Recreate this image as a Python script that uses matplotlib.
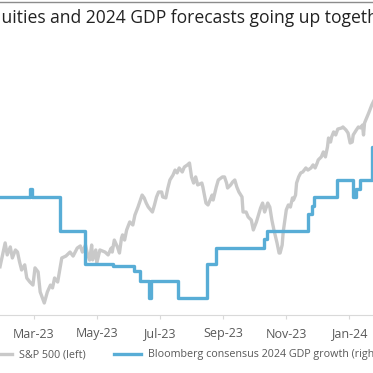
import matplotlib
matplotlib.use("Agg")
import matplotlib.pyplot as plt
import matplotlib.dates as mdates
from matplotlib.lines import Line2D
import pandas as pd

plt.rcParams['font.family'] = ['Open Sans', 'DejaVu Sans']

# S&P 500 (left axis)
sp_dates = (
    ["2023-01-27", "2023-02-01", "2023-02-03", "2023-02-06", "2023-02-08", "2023-02-11", "2023-02-13",
     "2023-02-15", "2023-02-17", "2023-02-20", "2023-02-22", "2023-02-25", "2023-02-28"]
    + ["2023-03-02", "2023-03-05", "2023-03-07", "2023-03-11", "2023-03-14", "2023-03-17", "2023-03-19",
       "2023-03-21", "2023-03-24", "2023-03-28"]
    + ["2023-04-01", "2023-04-05", "2023-04-08", "2023-04-12", "2023-04-15", "2023-04-17", "2023-04-20",
       "2023-04-22", "2023-04-24", "2023-04-26", "2023-04-27", "2023-04-30"]
    + ["2023-05-01", "2023-05-04", "2023-05-09", "2023-05-12", "2023-05-15", "2023-05-16", "2023-05-18",
       "2023-05-21", "2023-05-23", "2023-05-25", "2023-05-26", "2023-05-28", "2023-05-30"]
    + ["2023-06-02", "2023-06-05", "2023-06-07", "2023-06-10", "2023-06-14", "2023-06-16", "2023-06-18",
       "2023-06-20", "2023-06-24", "2023-06-26", "2023-06-28", "2023-06-30"]
    + ["2023-07-03", "2023-07-04", "2023-07-07", "2023-07-09", "2023-07-11", "2023-07-14", "2023-07-16",
       "2023-07-18", "2023-07-20", "2023-07-23", "2023-07-25", "2023-07-28", "2023-07-30"]
    + ["2023-08-01", "2023-08-03", "2023-08-05", "2023-08-07", "2023-08-11", "2023-08-12", "2023-08-15",
       "2023-08-17", "2023-08-19", "2023-08-21", "2023-08-22", "2023-08-25", "2023-08-27", "2023-08-31"]
    + ["2023-09-02", "2023-09-04", "2023-09-05", "2023-09-08", "2023-09-10", "2023-09-12", "2023-09-14",
       "2023-09-16", "2023-09-19", "2023-09-20", "2023-09-23", "2023-09-25", "2023-09-28", "2023-09-30"]
    + ["2023-10-03", "2023-10-05", "2023-10-07", "2023-10-09", "2023-10-11", "2023-10-14", "2023-10-16",
       "2023-10-18", "2023-10-20", "2023-10-23", "2023-10-25", "2023-10-26", "2023-10-28", "2023-10-29"]
    + ["2023-11-01", "2023-11-03", "2023-11-05", "2023-11-07", "2023-11-08", "2023-11-10", "2023-11-11",
       "2023-11-13", "2023-11-15", "2023-11-17", "2023-11-20", "2023-11-22", "2023-11-25", "2023-11-27",
       "2023-11-29"]
    + ["2023-12-01", "2023-12-02", "2023-12-05", "2023-12-07", "2023-12-09", "2023-12-11", "2023-12-12",
       "2023-12-14", "2023-12-15", "2023-12-17", "2023-12-19", "2023-12-21", "2023-12-25", "2023-12-26",
       "2023-12-29", "2023-12-31"]
    + ["2024-01-02", "2024-01-04", "2024-01-05", "2024-01-08", "2024-01-10", "2024-01-12", "2024-01-14",
       "2024-01-15", "2024-01-16", "2024-01-18", "2024-01-20", "2024-01-23", "2024-01-24", "2024-01-25"]
)
sp_values = (
    [4045, 4170, 4107, 4149, 4091, 4133, 4122, 4070, 4028, 4055, 3986, 3965, 3949]
    + [4039, 4018, 3913, 3855, 3913, 3949, 3934, 3986, 3965, 4091]
    + [4101, 4122, 4101, 4143, 4154, 4122, 4159, 4110, 4080, 4159, 4081, 4133]
    + [4065, 4133, 4122, 4107, 4143, 4122, 4185, 4149, 4117, 4196, 4212, 4185, 4238]
    + [4280, 4264, 4316, 4358, 4421, 4406, 4379, 4358, 4332, 4369, 4411, 4437]
    + [4437, 4411, 4406, 4458, 4500, 4526, 4552, 4537, 4563, 4542, 4568, 4579, 4589]
    + [4516, 4484, 4516, 4474, 4484, 4463, 4379, 4369, 4395, 4421, 4395, 4463, 4500, 4516]
    + [4516, 4484, 4458, 4474, 4490, 4500, 4463, 4437, 4411, 4332, 4332, 4306, 4290, 4238]
    + [4280, 4316, 4353, 4379, 4332, 4379, 4358, 4290, 4238, 4170, 4117, 4117, 4159, 4227]
    + [4343, 4369, 4358, 4406, 4395, 4421, 4484, 4516, 4537, 4542, 4563, 4552, 4563, 4579, 4563]
    + [4589, 4605, 4621, 4647, 4621, 4673, 4720, 4699, 4725, 4752, 4736, 4767, 4773, 4778, 4762, 4746]
    + [4694, 4699, 4736, 4762, 4778, 4773, 4788, 4736, 4799, 4825, 4851, 4893, 4904, 4915]
)

# Bloomberg consensus 2024 GDP growth (right axis), changes only
gdp_dates = ["2023-01-20", "2023-02-25", "2023-02-27", "2023-03-26", "2023-04-20", "2023-05-17",
             "2023-06-06", "2023-06-12", "2023-06-21", "2023-06-23", "2023-07-19", "2023-08-16",
             "2023-08-25", "2023-10-10", "2023-10-13", "2023-11-22", "2023-11-26", "2023-11-28",
             "2023-12-20", "2024-01-05", "2024-01-08", "2024-01-12", "2024-01-23", "2024-01-26"]
gdp_values = [1.1, 1.15, 1.1, 0.9, 0.7, 0.69, 0.66, 0.6, 0.5, 0.6, 0.5, 0.7,
              0.8, 0.85, 0.9, 1.0, 1.05, 1.1, 1.2, 1.1, 1.15, 1.2, 1.4, 1.4]

title = "Equities and 2024 GDP forecasts going up together"
sp_label = "S&P 500 (left)"
gdp_label = "Bloomberg consensus 2024 GDP growth (right)"

grey = "#C9C9C9"
blue = "#58ADD6"
text_col = "#595959"

fig = plt.figure(figsize=(3.73, 3.73), dpi=100)
ax = fig.add_axes([0, 1 - 315 / 373, 1, 275 / 373])
ax2 = ax.twinx()

ax.plot(pd.to_datetime(sp_dates), sp_values, color=grey, lw=2.4, label=sp_label)
ax2.plot(pd.to_datetime(gdp_dates), gdp_values, color=blue, lw=2.4,
         drawstyle="steps-post", label=gdp_label)

ax.set_xlim(pd.Timestamp("2023-01-27"), pd.Timestamp("2024-01-24 05:00"))
ax.set_ylim(3792, 5234)
ax2.set_ylim(0.399, 2.036)

# only the bottom axis line is visible
for a in (ax, ax2):
    for s in ("top", "left", "right"):
        a.spines[s].set_visible(False)
    a.set_yticks([])
ax2.spines["bottom"].set_visible(False)
ax.spines["bottom"].set_color("#D9D9D9")

ax.xaxis.set_major_locator(mdates.MonthLocator(bymonth=[1, 3, 5, 7, 9, 11]))
ax.xaxis.set_major_formatter(mdates.DateFormatter("%b-%y"))
ax.tick_params(axis="x", colors="#D9D9D9", labelcolor=text_col, labelsize=9, length=3, pad=6)

fig.text(-19 / 373, 1 - 18 / 373, title, fontsize=12.65, color="#222222", ha="left", va="center")
fig.add_artist(Line2D([0, 1], [1 - 1.5 / 373] * 2, color="#8C8C8C", lw=1))

h1, l1 = ax.get_legend_handles_labels()
h2, l2 = ax2.get_legend_handles_labels()
leg = fig.legend(h1 + h2, l1 + l2, loc="center left", bbox_to_anchor=(-15 / 373, 1 - 355 / 373),
                 ncol=2, frameon=False, fontsize=7.75, handlelength=2.5, handletextpad=0.65,
                 columnspacing=2.6, borderpad=0, borderaxespad=0)
for t in leg.get_texts():
    t.set_color(text_col)

fig.savefig("out.png", dpi=100)
